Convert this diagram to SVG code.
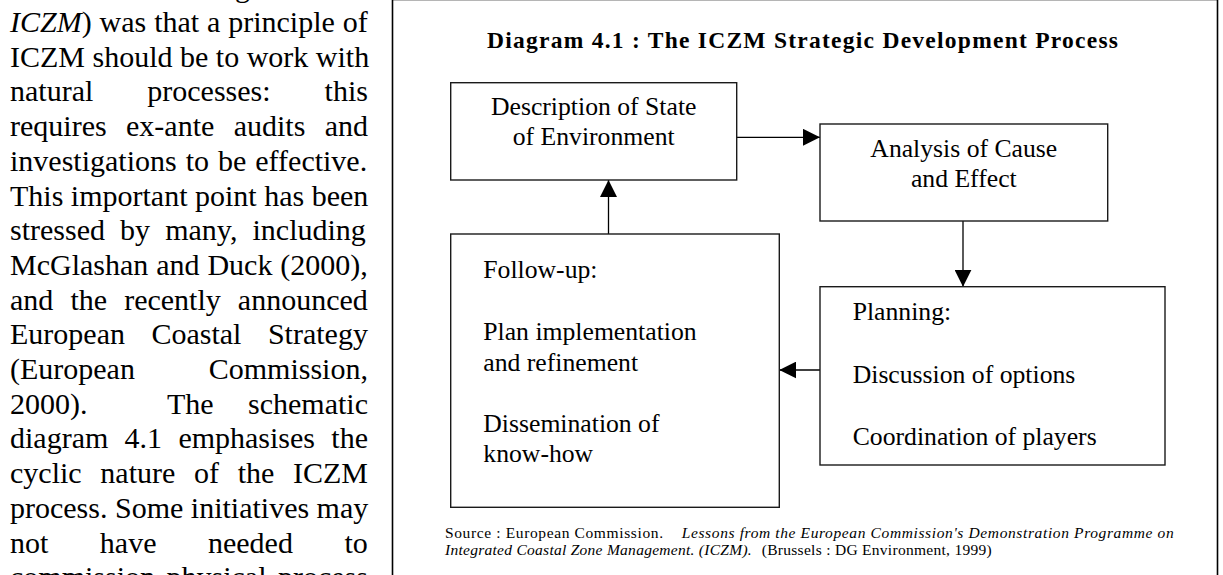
<svg xmlns="http://www.w3.org/2000/svg" width="1223" height="575" viewBox="0 0 1223 575">
<style>
  .para { font-family: "Liberation Serif", "Times New Roman", serif; font-size: 30px; fill: #000; }
  .box { fill: #fff; stroke: #1a1a1a; stroke-width: 1.4; }
  .bt { font-family: "Liberation Serif", "Times New Roman", serif; font-size: 25.7px; fill: #000; }
  .title { font-family: "Liberation Serif", "Times New Roman", serif; font-size: 23.5px; font-weight: bold; fill: #000; }
  .src { font-family: "Liberation Serif", "Times New Roman", serif; font-size: 15.5px; fill: #000; white-space: pre; }
  .it { font-style: italic; }
  .conn { fill: none; stroke: #000; stroke-width: 1.3; }
</style>
<defs>
  <marker id="ah" viewBox="0 0 17 17" markerWidth="17" markerHeight="17" refX="17" refY="8.5" orient="auto" markerUnits="userSpaceOnUse">
    <path d="M0,0 L17,8.5 L0,17 Z" fill="#000"/>
  </marker>
</defs>
<rect width="1223" height="575" fill="#fff"/>

<g id="paragraph" class="para">
  <text x="235" y="-2.7">g</text>
  <text x="10" y="32" style="word-spacing:0.4px"><tspan class="it">ICZM</tspan>) was that a principle of</text>
  <text x="10" y="66.7">ICZM should be to work with</text>
  <text x="10" y="101.4" style="word-spacing:46.5px">natural processes: this</text>
  <text x="10" y="136.1" style="word-spacing:11.9px">requires ex-ante audits and</text>
  <text x="10" y="170.8" style="word-spacing:1.5px">investigations to be effective.</text>
  <text x="10" y="205.5">This important point has been</text>
  <text x="10" y="240.2" style="word-spacing:7.6px">stressed by many, including</text>
  <text x="10" y="274.9" style="word-spacing:0.4px">McGlashan and Duck (2000),</text>
  <text x="10" y="309.6" style="word-spacing:9.6px">and the recently announced</text>
  <text x="10" y="344.3" style="word-spacing:19px">European Coastal Strategy</text>
  <text x="10" y="379" style="word-spacing:66.3px">(European Commission,</text>
  <text x="10" y="413.7">2000).</text>
  <text x="167" y="413.7">The</text>
  <text x="368" y="413.7" text-anchor="end">schematic</text>
  <text x="10" y="448.4" style="word-spacing:8.8px">diagram 4.1 emphasises the</text>
  <text x="10" y="483.1" style="word-spacing:11.2px">cyclic nature of the ICZM</text>
  <text x="10" y="517.8">process. Some initiatives may</text>
  <text x="10" y="552.5" style="word-spacing:44px">not have needed to</text>
  <text x="10" y="587.2" style="word-spacing:4px">commission physical process</text>
</g>

<g id="frame">
  <line x1="392.5" y1="0.5" x2="1217.5" y2="0.5" stroke="#b5b5b5" stroke-width="1.2"/>
  <line x1="392.5" y1="0" x2="392.5" y2="575" stroke="#000" stroke-width="1.6"/>
  <line x1="1217.5" y1="0" x2="1217.5" y2="575" stroke="#000" stroke-width="1.6"/>
</g>

<g id="title">
  <text class="title" x="487" y="48" textLength="631" lengthAdjust="spacing">Diagram 4.1 : The ICZM Strategic Development Process</text>
</g>

<g id="connectors">
  <path class="conn" d="M736.7,137.3 H820" marker-end="url(#ah)"/>
  <path class="conn" d="M963,221 V286.7" marker-end="url(#ah)"/>
  <path class="conn" d="M820,370 H779.3" marker-end="url(#ah)"/>
  <path class="conn" d="M608.5,234 V180" marker-end="url(#ah)"/>
</g>

<g id="node-description">
  <rect class="box" x="450.7" y="82.7" width="286" height="97.3"/>
  <text class="bt" x="593.7" y="115" text-anchor="middle">Description of State</text>
  <text class="bt" x="593.7" y="145" text-anchor="middle">of Environment</text>
</g>

<g id="node-analysis">
  <rect class="box" x="820" y="124" width="287.7" height="97"/>
  <text class="bt" x="963.8" y="156.7" text-anchor="middle">Analysis of Cause</text>
  <text class="bt" x="963.8" y="186.7" text-anchor="middle">and Effect</text>
</g>

<g id="node-planning">
  <rect class="box" x="820" y="286.7" width="345" height="178.3"/>
  <text class="bt" x="852.7" y="320">Planning:</text>
  <text class="bt" x="852.7" y="383.3">Discussion of options</text>
  <text class="bt" x="852.7" y="445">Coordination of players</text>
</g>

<g id="node-followup">
  <rect class="box" x="450.7" y="234" width="328.6" height="273.3"/>
  <text class="bt" x="483.3" y="278.3">Follow-up:</text>
  <text class="bt" x="483.3" y="340">Plan implementation</text>
  <text class="bt" x="483.3" y="370.7">and refinement</text>
  <text class="bt" x="483.3" y="432.3">Dissemination of</text>
  <text class="bt" x="483.3" y="462.3">know-how</text>
</g>

<g id="source" class="src">
  <text x="445" y="537.5" textLength="218" lengthAdjust="spacing">Source :  European Commission.</text>
  <text class="it" x="681.7" y="537.5" textLength="492" lengthAdjust="spacing">Lessons from the European Commission's Demonstration Programme on</text>
  <text class="it" x="445" y="555" textLength="306.7" lengthAdjust="spacing">Integrated Coastal Zone Management.  (ICZM).</text>
  <text x="761.7" y="555" textLength="230" lengthAdjust="spacing">(Brussels :  DG Environment, 1999)</text>
</g>
</svg>
